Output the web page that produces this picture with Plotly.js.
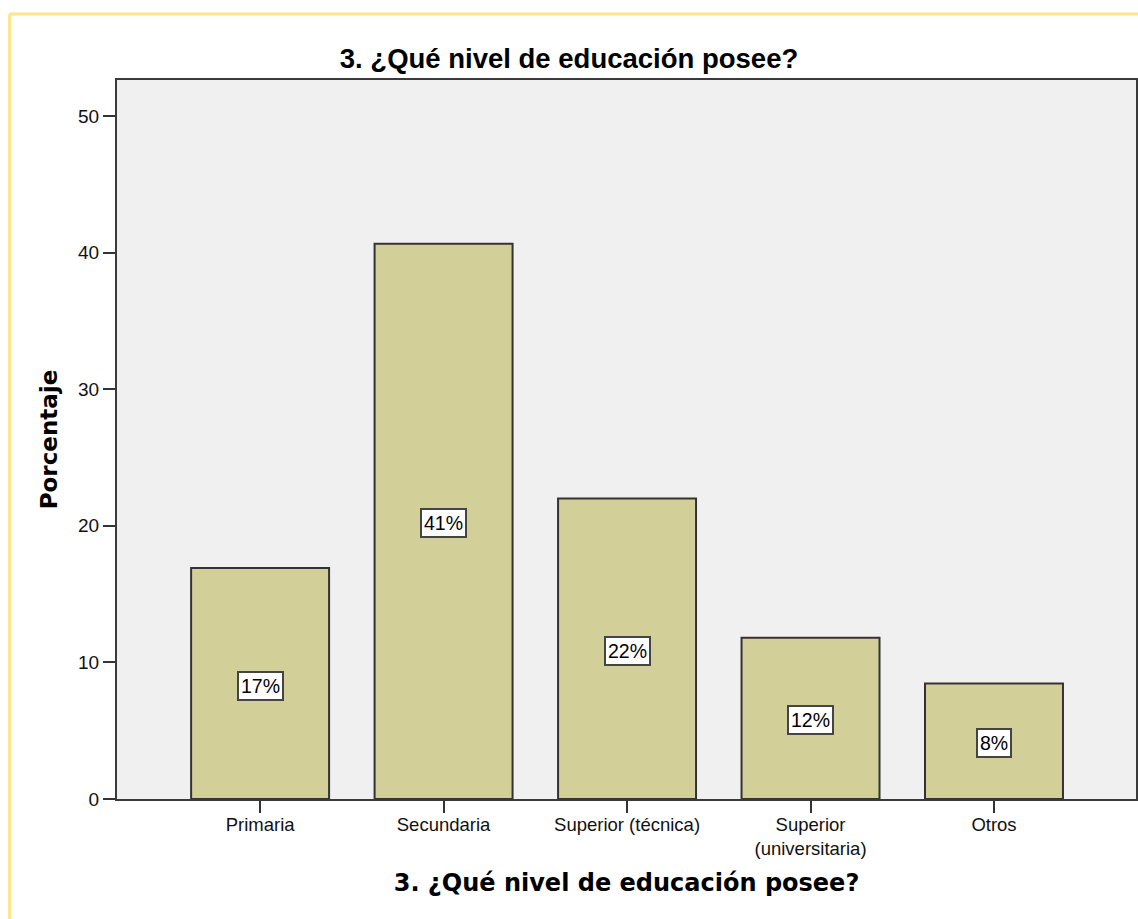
<!DOCTYPE html>
<html>
<head>
<meta charset="utf-8">
<script src="https://cdn.plot.ly/plotly-3.0.1.min.js"></script>
<style>html,body{margin:0;padding:0;background:#fff;}#chart{width:1138px;height:919px;}</style>
</head>
<body>
<div id="chart"></div>
<script>
const categories = ["Primaria", "Secundaria", "Superior (técnica)", "Superior<br>(universitaria)", "Otros"];
const percentages = [16.9, 40.65, 22.0, 11.8, 8.45];
const barLabels = ["17%", "41%", "22%", "12%", "8%"];
const yTicks = [0, 10, 20, 30, 40, 50];
const titleText = "3. ¿Qué nivel de educación posee?";
const yTitle = "Porcentaje";

const ARIAL = "Liberation Sans, Arial, sans-serif";

const trace = {
  type: "bar",
  x: categories,
  y: percentages,
  width: 0.752,
  marker: {color: "#d3cf98", line: {color: "#333333", width: 2}},
  hoverinfo: "skip"
};

const annotations = categories.map((c, i) => ({
  x: c, y: percentages[i] / 2, xref: "x", yref: "y", yshift: -2,
  text: barLabels[i], showarrow: false,
  font: {family: ARIAL, size: 19.5, color: "#000"},
  bgcolor: "#ffffff", bordercolor: "#444444", borderwidth: 2, borderpad: 2
}));

const layout = {
  width: 1138, height: 919,
  margin: {l: 117, r: 2, t: 80, b: 120},
  paper_bgcolor: "#ffffff",
  plot_bgcolor: "#f0f0f0",
  showlegend: false,
  bargap: 0,
  title: {text: titleText, x: 0.5, xanchor: "center", y: 0.937, yanchor: "middle",
          font: {family: ARIAL, size: 27.5, color: "#000", weight: "bold"}},
  xaxis: {
    type: "category", range: [-0.78, 4.774],
    showline: true, mirror: true, linecolor: "#3a3a3a", linewidth: 2,
    ticks: "outside", ticklen: 12, tickcolor: "#333", tickwidth: 2,
    ticklabelstandoff: -4,
    tickfont: {family: ARIAL, size: 18.5, color: "#111"},
    title: {text: titleText, standoff: 16,
            font: {family: "DejaVu Sans, sans-serif", size: 24, color: "#000", weight: "bold"}},
    showgrid: false, fixedrange: true
  },
  yaxis: {
    range: [0, 52.63], tickvals: yTicks,
    showline: true, mirror: true, linecolor: "#3a3a3a", linewidth: 2,
    ticks: "outside", ticklen: 12, tickcolor: "#333", tickwidth: 2,
    tickfont: {family: ARIAL, size: 19, color: "#111"},
    title: {text: yTitle, standoff: 14,
            font: {family: "DejaVu Sans, sans-serif", size: 23, color: "#000", weight: "bold"}},
    showgrid: false, zeroline: false, fixedrange: true
  },
  annotations: annotations,
  shapes: [
    {type: "line", xref: "paper", yref: "paper", x0: -0.1055, x1: 1.01, y0: 1.0918, y1: 1.0918,
     line: {color: "#fde58c", width: 3}},
    {type: "line", xref: "paper", yref: "paper", x0: -0.1055, x1: -0.1055, y0: 1.0918, y1: -0.2,
     line: {color: "#fde58c", width: 3}}
  ]
};

Plotly.newPlot("chart", [trace], layout, {displayModeBar: false, staticPlot: true});
</script>
</body>
</html>
